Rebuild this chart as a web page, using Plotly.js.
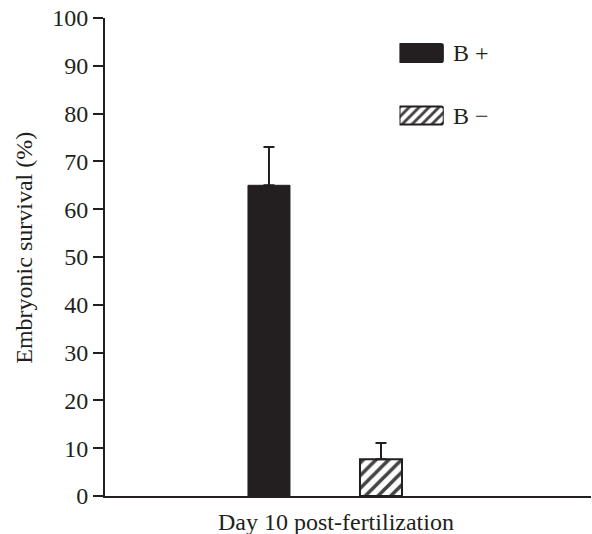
<!DOCTYPE html>
<html>
<head>
<meta charset="utf-8">
<script src="https://cdn.plot.ly/plotly-3.0.1.min.js"></script>
<style>html,body{margin:0;padding:0;background:#fff;}#chart{width:592px;height:534px;}</style>
</head>
<body>
<div id="chart"></div>
<script>
// ---- data ----
const groups = ['B +', 'B \u2212'];
const survival = [65, 7.7];
const errorUpper = [8, 3.4];
const yTicks = [0, 10, 20, 30, 40, 50, 60, 70, 80, 90, 100];
const xLabel = 'Day 10 post-fertilization';
const yLabel = 'Embryonic survival (%)';

const ink = '#231f20';
const font = {family: '"Liberation Serif", "Times New Roman", serif', size: 24, color: ink};

const bars = {
  type: 'bar',
  x: groups,
  y: survival,
  marker: {
    color: [ink, '#ffffff'],
    line: {color: [ink, ink], width: [1, 2]},
    pattern: {shape: ['', '/'], fgcolor: ink, fgopacity: 1, size: 9, solidity: 0.4, fillmode: 'overlay'}
  },
  error_y: {type: 'data', symmetric: false, array: errorUpper, arrayminus: [0, 0], color: ink, thickness: 2, width: 5.5},
  showlegend: false,
  hoverinfo: 'skip'
};

// legend swatches drawn as bars on a hidden inset axis
const legendBars = {
  type: 'bar',
  orientation: 'h',
  y: groups,
  x: groups.map(() => 1),
  xaxis: 'x2', yaxis: 'y2',
  width: 0.29,
  marker: {
    color: [ink, '#ffffff'],
    line: {color: ink, width: 2},
    cornerradius: 3,
    pattern: {shape: ['', '/'], fgcolor: ink, fgopacity: 1, size: 7, solidity: 0.42, fillmode: 'overlay'}
  },
  showlegend: false,
  hoverinfo: 'skip'
};

const layout = {
  width: 592, height: 534,
  margin: {l: 105, r: 1, t: 18, b: 38},
  paper_bgcolor: '#ffffff', plot_bgcolor: '#ffffff',
  font: font,
  bargap: 0.625,
  xaxis: {
    type: 'category',
    categoryarray: groups,
    range: [-1.464, 2.875],
    showticklabels: false, ticks: '',
    showgrid: false, zeroline: false,
    showline: true, linecolor: ink, linewidth: 2
  },
  yaxis: {
    range: [0, 100],
    tickvals: yTicks,
    ticktext: yTicks.map(String),
    ticks: 'outside', ticklen: 10, tickwidth: 2, tickcolor: ink,
    showgrid: false, zeroline: false,
    showline: true, linecolor: ink, linewidth: 2,
    tickfont: font
  },
  xaxis2: {
    domain: [0.606, 0.697], anchor: 'y2', range: [0, 1],
    visible: false, fixedrange: true
  },
  yaxis2: {
    domain: [0.7, 1], anchor: 'x2', type: 'category',
    categoryarray: [groups[1], groups[0]],
    range: [-0.734, 1.56],
    visible: false, fixedrange: true
  },
  annotations: [
    {xref: 'paper', yref: 'paper', x: 0.476, y: -0.055, text: xLabel, showarrow: false, xanchor: 'center', yanchor: 'middle', font: font},
    {xref: 'paper', yref: 'paper', x: -0.166, y: 0.52, text: yLabel, showarrow: false, textangle: -90, xanchor: 'center', yanchor: 'middle', font: font},
    {xref: 'paper', yref: 'paper', x: 0.712, y: (496 - 53) / 478, text: groups[0], showarrow: false, xanchor: 'left', yanchor: 'middle', font: font},
    {xref: 'paper', yref: 'paper', x: 0.712, y: (496 - 115.5) / 478, text: groups[1], showarrow: false, xanchor: 'left', yanchor: 'middle', font: font}
  ]
};

Plotly.newPlot('chart', [bars, legendBars], layout, {displayModeBar: false, staticPlot: true});
</script>
</body>
</html>
